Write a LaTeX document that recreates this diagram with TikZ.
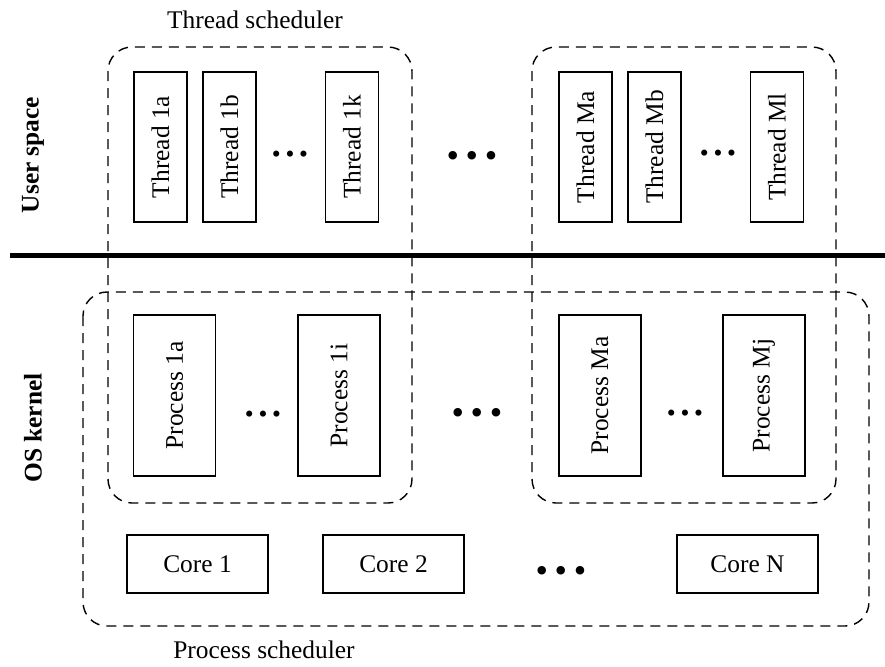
\documentclass[tikz,border=0pt]{standalone}
\usepackage{fontspec}
\setmainfont{Liberation Serif}
\newcommand{\dotrow}{\textbullet\hspace{2.4pt}\textbullet\hspace{2.4pt}\textbullet}
\begin{document}
\begin{tikzpicture}[x=0.5pt,y=-0.5pt,
  every node/.style={font=\fontsize{12.7}{15}\selectfont},
  thread/.style={draw, line width=0.75pt, rotate=90, inner sep=0pt,
    minimum width=75pt, minimum height=26.5pt},
  proc/.style={draw, line width=0.75pt, rotate=90, inner sep=0pt,
    minimum width=80.5pt, minimum height=41pt},
  core/.style={draw, line width=0.75pt, inner sep=0pt,
    minimum width=70.5pt, minimum height=29pt},
  group/.style={line width=0.7pt, dash pattern=on 5pt off 3.5pt, rounded corners=12pt},
  side/.style={rotate=90, font=\fontsize{12.7}{15}\selectfont\bfseries},
  ellip/.style={inner sep=0pt},
  bigellip/.style={inner sep=0pt, scale=1.4}]
  \useasboundingbox (0,0) rectangle (885,666);

  % user / kernel boundary
  \coordinate (L) at (10,255);
  \coordinate (R) at (885,255);
  \draw[line width=2.5pt] (L) -- (R);

  % schedulers
  \draw[group] (108,47) rectangle (412,503);
  \draw[group] (532,47) rectangle (836,503);
  \draw[group] (83,292) rectangle (869,626);
  \node (ts) at (255,20) {Thread scheduler};
  \node (ps) at (264,650) {Process scheduler};

  \node[side] (us) at (33,155) {User space};
  \node[side] (ok) at (33,428) {OS kernel};

  % threads
  \node[thread] (T1a) at (160.5,147) {Thread 1a};
  \node[thread] (T1b) at (229.5,147) {Thread 1b};
  \node[thread] (T1k) at (352,147) {Thread 1k};
  \node[thread] (TMa) at (585.5,147) {Thread Ma};
  \node[thread] (TMb) at (654.5,147) {Thread Mb};
  \node[thread] (TMl) at (777,147) {Thread Ml};
  \node[ellip] (d1) at (290,157) {\dotrow};
  \node[ellip] (d2) at (718,156) {\dotrow};
  \node[bigellip] (d3) at (472,159) {\dotrow};

  % processes
  \node[proc] (P1a) at (174.5,395.5) {Process 1a};
  \node[proc] (P1i) at (339,395.5) {Process 1i};
  \node[proc] (PMa) at (600,395.5) {Process Ma};
  \node[proc] (PMj) at (764,395.5) {Process Mj};
  \node[ellip] (d4) at (263,417) {\dotrow};
  \node[ellip] (d5) at (685,416) {\dotrow};
  \node[bigellip] (d6) at (477,416) {\dotrow};

  % cores
  \node[core] (C1) at (197.5,564) {Core 1};
  \node[core] (C2) at (393.5,564) {Core 2};
  \node[core] (CN) at (747.5,564) {Core N};
  \node[bigellip] (d7) at (561,574) {\dotrow};
\end{tikzpicture}
\end{document}
